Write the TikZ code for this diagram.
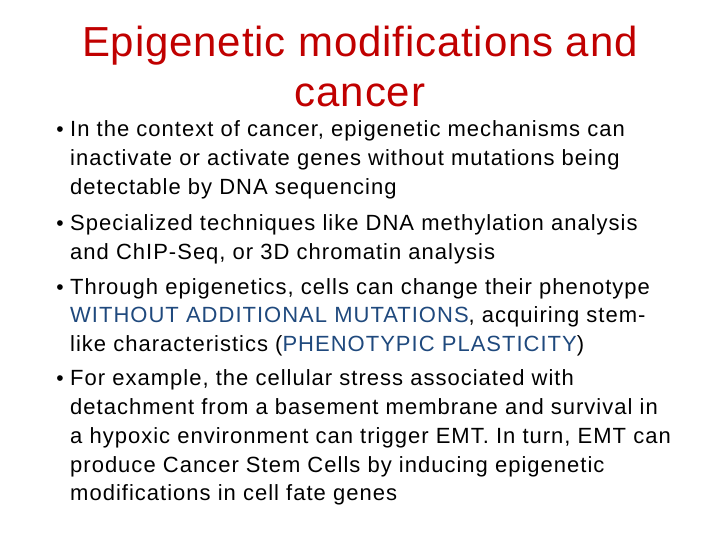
\documentclass[tikz,border=0pt]{standalone}
\usepackage{fontspec}
\setmainfont{Liberation Sans}
\newfontfamily\bodyfont[LetterSpace=4.6]{Liberation Sans}
\newfontfamily\titlefont[LetterSpace=2]{Liberation Sans}
\definecolor{titlered}{RGB}{192,0,0}
\definecolor{textblue}{RGB}{31,73,125}
\begin{document}
\begin{tikzpicture}[x=1pt,y=-1pt,
  ttl/.style={anchor=base,text=titlered,font=\titlefont\fontsize{42}{46}\selectfont,inner sep=0},
  ln/.style={anchor=base west,font=\bodyfont\fontsize{22}{25}\selectfont,inner sep=0},
  bul/.style={anchor=base,font=\fontsize{21}{25}\selectfont,inner sep=0}]
\useasboundingbox (0,0) rectangle (720,540);
\node[ttl] (t1) at (360,57) {Epigenetic modifications and};
\node[ttl] (t2) at (360,107) {cancer};
\node[bul] (b1) at (60,137) {•};
\node[ln] (l1) at (70,137) {In the context of cancer, epigenetic mechanisms can};
\node[ln] (l2) at (70,166) {inactivate or activate genes without mutations being};
\node[ln] (l3) at (70,195) {detectable by DNA sequencing};
\node[bul] (b2) at (60,230) {•};
\node[ln] (l4) at (70,230) {Specialized techniques like DNA methylation analysis};
\node[ln] (l5) at (70,259) {and ChIP-Seq, or 3D chromatin analysis};
\node[bul] (b3) at (60,294) {•};
\node[ln] (l6) at (70,294) {Through epigenetics, cells can change their phenotype};
\node[ln] (l7) at (70,322) {\textcolor{textblue}{WITHOUT ADDITIONAL MUTATIONS}, acquiring stem-};
\node[ln] (l8) at (70,351) {like characteristics (\textcolor{textblue}{PHENOTYPIC PLASTICITY})};
\node[bul] (b4) at (60,385) {•};
\node[ln] (l9) at (70,385) {For example, the cellular stress associated with};
\node[ln] (l10) at (70,414) {detachment from a basement membrane and survival in};
\node[ln] (l11) at (70,443) {a hypoxic environment can trigger EMT. In turn, EMT can};
\node[ln] (l12) at (70,472) {produce Cancer Stem Cells by inducing epigenetic};
\node[ln] (l13) at (70,500) {modifications in cell fate genes};
\end{tikzpicture}
\end{document}
